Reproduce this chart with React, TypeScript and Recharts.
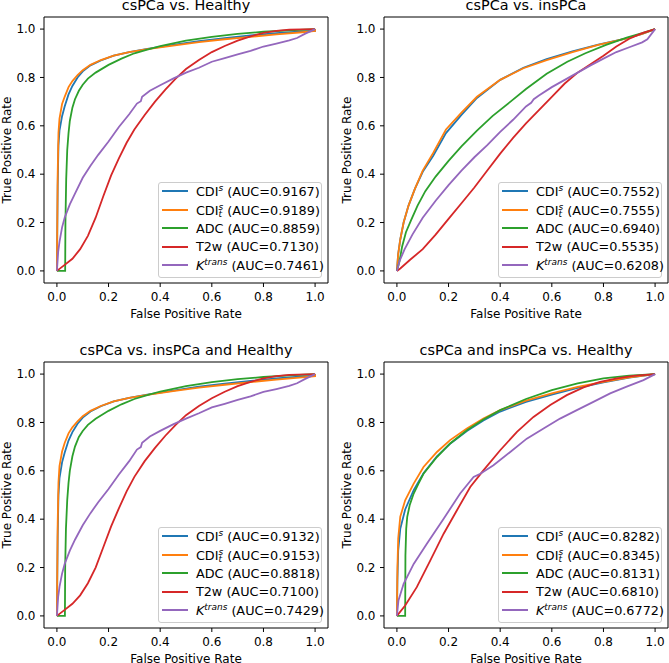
import React from 'react';
import { LineChart, Line, XAxis, YAxis, ReferenceArea } from 'recharts';

type Pt = [number, number];

const FONT = '"DejaVu Sans", "Liberation Sans", sans-serif';
const SERIES_COLORS = ['#1f77b4', '#ff7f0e', '#2ca02c', '#d62728', '#9467bd'];
const AXIS_TICKS = [0, 0.2, 0.4, 0.6, 0.8, 1.0];
const PANEL_TITLES = [
  'csPCa vs. Healthy',
  'csPCa vs. insPCa',
  'csPCa vs. insPCa and Healthy',
  'csPCa and insPCa vs. Healthy',
];
const X_LABEL = 'False Positive Rate';
const Y_LABEL = 'True Positive Rate';

const aucHealthy = ['0.9167', '0.9189', '0.8859', '0.7130', '0.7461'];
const aucInsPCa = ['0.7552', '0.7555', '0.6940', '0.5535', '0.6208'];
const aucInsHealthy = ['0.9132', '0.9153', '0.8818', '0.7100', '0.7429'];
const aucAnyHealthy = ['0.8282', '0.8345', '0.8131', '0.6810', '0.6772'];

// ---- csPCa vs. Healthy ----
const hCdi: Pt[] = [[0,0],[0.003,0.35],[0.006,0.52],[0.01,0.58],[0.02,0.64],[0.03,0.68],[0.045,0.73],[0.06,0.765],[0.08,0.8],[0.1,0.825],[0.13,0.85],[0.17,0.87],[0.22,0.89],[0.28,0.905],[0.35,0.918],[0.45,0.935],[0.55,0.95],[0.65,0.963],[0.75,0.974],[0.85,0.983],[0.95,0.99],[1,0.993],[1,1]];
const hCdiT: Pt[] = [[0,0],[0.003,0.4],[0.006,0.57],[0.01,0.63],[0.02,0.69],[0.03,0.72],[0.045,0.76],[0.06,0.785],[0.08,0.81],[0.1,0.83],[0.13,0.852],[0.17,0.872],[0.22,0.89],[0.28,0.905],[0.35,0.917],[0.45,0.932],[0.55,0.946],[0.65,0.958],[0.75,0.968],[0.85,0.978],[0.95,0.987],[1,0.992],[1,1]];
const hAdc: Pt[] = [[0,0],[0.032,0],[0.033,0.2],[0.036,0.38],[0.04,0.5],[0.045,0.57],[0.05,0.62],[0.06,0.675],[0.07,0.71],[0.085,0.745],[0.1,0.77],[0.12,0.795],[0.15,0.82],[0.2,0.852],[0.25,0.878],[0.3,0.9],[0.35,0.915],[0.4,0.93],[0.5,0.952],[0.6,0.968],[0.7,0.98],[0.8,0.989],[0.9,0.995],[1,1]];
const hT2w: Pt[] = [[0,0],[0.03,0.025],[0.06,0.05],[0.09,0.09],[0.12,0.145],[0.15,0.22],[0.18,0.31],[0.21,0.395],[0.24,0.465],[0.27,0.53],[0.3,0.585],[0.34,0.645],[0.38,0.7],[0.42,0.75],[0.46,0.795],[0.5,0.835],[0.55,0.872],[0.6,0.905],[0.65,0.93],[0.7,0.952],[0.75,0.97],[0.8,0.984],[0.85,0.993],[0.9,0.998],[1,1]];
const hKtrans: Pt[] = [[0,0],[0.005,0.08],[0.01,0.12],[0.02,0.18],[0.03,0.22],[0.05,0.275],[0.07,0.32],[0.1,0.385],[0.13,0.435],[0.16,0.48],[0.2,0.535],[0.24,0.595],[0.28,0.648],[0.31,0.692],[0.325,0.702],[0.33,0.72],[0.36,0.745],[0.4,0.768],[0.45,0.795],[0.5,0.82],[0.55,0.84],[0.6,0.865],[0.65,0.88],[0.7,0.895],[0.75,0.91],[0.8,0.928],[0.85,0.94],[0.9,0.953],[0.93,0.963],[0.96,0.98],[1,1]];

// ---- csPCa vs. insPCa ----
const iCdi: Pt[] = [[0,0],[0.005,0.07],[0.013,0.13],[0.026,0.2],[0.045,0.27],[0.07,0.34],[0.1,0.41],[0.14,0.475],[0.19,0.57],[0.25,0.645],[0.31,0.715],[0.4,0.79],[0.49,0.84],[0.58,0.876],[0.68,0.908],[0.78,0.936],[0.89,0.962],[0.95,0.98],[1,1]];
const iCdiT: Pt[] = [[0,0],[0.005,0.07],[0.013,0.13],[0.026,0.2],[0.045,0.27],[0.07,0.34],[0.1,0.415],[0.14,0.487],[0.19,0.585],[0.25,0.655],[0.31,0.72],[0.4,0.79],[0.49,0.838],[0.58,0.872],[0.68,0.905],[0.78,0.935],[0.89,0.962],[0.95,0.98],[1,1]];
const iAdc: Pt[] = [[0,0],[0.01,0.04],[0.02,0.1],[0.035,0.16],[0.055,0.21],[0.08,0.27],[0.11,0.33],[0.15,0.39],[0.2,0.455],[0.25,0.515],[0.31,0.58],[0.37,0.64],[0.44,0.7],[0.5,0.752],[0.58,0.815],[0.66,0.865],[0.73,0.9],[0.81,0.935],[0.89,0.965],[0.95,0.983],[1,1]];
const iT2w: Pt[] = [[0,0],[0.013,0.01],[0.05,0.045],[0.1,0.09],[0.15,0.15],[0.2,0.215],[0.25,0.28],[0.3,0.345],[0.35,0.415],[0.4,0.485],[0.45,0.55],[0.5,0.61],[0.55,0.665],[0.6,0.72],[0.65,0.775],[0.7,0.82],[0.75,0.855],[0.8,0.89],[0.85,0.928],[0.9,0.96],[0.95,0.983],[1,1]];
const iKtrans: Pt[] = [[0,0],[0.01,0.04],[0.03,0.09],[0.06,0.15],[0.1,0.22],[0.15,0.29],[0.2,0.355],[0.25,0.415],[0.3,0.47],[0.35,0.52],[0.4,0.575],[0.45,0.625],[0.5,0.68],[0.52,0.695],[0.53,0.71],[0.55,0.725],[0.6,0.76],[0.65,0.79],[0.7,0.82],[0.75,0.85],[0.8,0.878],[0.85,0.905],[0.9,0.925],[0.95,0.945],[0.97,0.958],[1,1]];

// ---- csPCa vs. insPCa and Healthy ----
const aCdi: Pt[] = [[0,0],[0.003,0.33],[0.006,0.5],[0.01,0.57],[0.02,0.635],[0.03,0.675],[0.045,0.725],[0.06,0.76],[0.08,0.795],[0.1,0.82],[0.13,0.845],[0.17,0.867],[0.22,0.887],[0.28,0.902],[0.35,0.915],[0.45,0.932],[0.55,0.948],[0.65,0.961],[0.75,0.972],[0.85,0.982],[0.95,0.99],[1,0.993],[1,1]];
const aCdiT: Pt[] = [[0,0],[0.003,0.38],[0.006,0.55],[0.01,0.62],[0.02,0.68],[0.03,0.715],[0.045,0.755],[0.06,0.78],[0.08,0.805],[0.1,0.826],[0.13,0.848],[0.17,0.868],[0.22,0.887],[0.28,0.902],[0.35,0.914],[0.45,0.93],[0.55,0.944],[0.65,0.956],[0.75,0.967],[0.85,0.977],[0.95,0.986],[1,0.991],[1,1]];
const aAdc: Pt[] = [[0,0],[0.031,0],[0.032,0.2],[0.035,0.36],[0.04,0.48],[0.045,0.55],[0.05,0.6],[0.06,0.66],[0.07,0.7],[0.085,0.74],[0.1,0.765],[0.12,0.79],[0.15,0.815],[0.2,0.848],[0.25,0.875],[0.3,0.897],[0.35,0.913],[0.4,0.928],[0.5,0.95],[0.6,0.967],[0.7,0.979],[0.8,0.988],[0.9,0.995],[1,1]];
const aT2w: Pt[] = [[0,0],[0.03,0.025],[0.06,0.05],[0.09,0.085],[0.12,0.135],[0.15,0.2],[0.18,0.285],[0.21,0.37],[0.24,0.445],[0.27,0.515],[0.3,0.575],[0.34,0.64],[0.38,0.695],[0.42,0.745],[0.46,0.79],[0.5,0.83],[0.55,0.868],[0.6,0.9],[0.65,0.927],[0.7,0.95],[0.75,0.968],[0.8,0.982],[0.85,0.992],[0.9,0.997],[1,1]];
const aKtrans: Pt[] = [[0,0],[0.005,0.08],[0.01,0.12],[0.02,0.175],[0.03,0.215],[0.05,0.27],[0.07,0.315],[0.1,0.375],[0.13,0.425],[0.16,0.47],[0.2,0.525],[0.24,0.585],[0.28,0.64],[0.31,0.688],[0.325,0.698],[0.33,0.716],[0.36,0.742],[0.4,0.765],[0.45,0.792],[0.5,0.816],[0.55,0.838],[0.6,0.862],[0.65,0.877],[0.7,0.893],[0.75,0.908],[0.8,0.926],[0.85,0.938],[0.9,0.951],[0.93,0.962],[0.96,0.979],[1,1]];

// ---- csPCa and insPCa vs. Healthy ----
const pCdi: Pt[] = [[0,0],[0.002,0.15],[0.005,0.27],[0.013,0.36],[0.032,0.44],[0.065,0.52],[0.103,0.59],[0.155,0.66],[0.206,0.712],[0.271,0.765],[0.335,0.808],[0.4,0.845],[0.5,0.885],[0.6,0.915],[0.7,0.943],[0.8,0.966],[0.9,0.985],[1,1]];
const pCdiT: Pt[] = [[0,0],[0.002,0.2],[0.005,0.32],[0.013,0.41],[0.032,0.478],[0.065,0.547],[0.103,0.616],[0.155,0.678],[0.206,0.727],[0.271,0.775],[0.335,0.816],[0.4,0.851],[0.5,0.89],[0.6,0.92],[0.7,0.947],[0.8,0.968],[0.9,0.986],[1,1]];
const pAdc: Pt[] = [[0,0],[0.032,0],[0.033,0.25],[0.036,0.36],[0.04,0.41],[0.05,0.46],[0.065,0.506],[0.085,0.55],[0.103,0.588],[0.155,0.657],[0.206,0.713],[0.271,0.768],[0.335,0.812],[0.4,0.851],[0.5,0.897],[0.6,0.934],[0.7,0.962],[0.8,0.982],[0.9,0.994],[1,1]];
const pT2w: Pt[] = [[0,0],[0.032,0.043],[0.077,0.119],[0.129,0.229],[0.181,0.34],[0.232,0.436],[0.284,0.533],[0.335,0.602],[0.4,0.685],[0.465,0.761],[0.529,0.823],[0.594,0.872],[0.658,0.913],[0.723,0.945],[0.787,0.968],[0.852,0.982],[0.916,0.993],[1,1]];
const pKtrans: Pt[] = [[0,0],[0.006,0.064],[0.026,0.133],[0.065,0.215],[0.116,0.298],[0.181,0.402],[0.245,0.506],[0.297,0.575],[0.323,0.588],[0.374,0.623],[0.439,0.678],[0.503,0.733],[0.568,0.775],[0.632,0.816],[0.697,0.851],[0.761,0.885],[0.826,0.92],[0.89,0.948],[0.955,0.975],[1,1]];

const PANEL_SERIES: Pt[][][] = [
  [hCdi, hCdiT, hAdc, hT2w, hKtrans],
  [iCdi, iCdiT, iAdc, iT2w, iKtrans],
  [aCdi, aCdiT, aAdc, aT2w, aKtrans],
  [pCdi, pCdiT, pAdc, pT2w, pKtrans],
];
const PANEL_AUCS = [aucHealthy, aucInsPCa, aucInsHealthy, aucAnyHealthy];

const PLOT_L = 44;
const PLOT_T = 17;
const PLOT_W = 284;
const PLOT_H = 266;
const XAXIS_H = 35;
const LEG_FS = 12.8;
const SCRIPT_FS = 8.96;

const fmt = (v: number) => v.toFixed(1);

const scriptBase: React.CSSProperties = {
  fontSize: SCRIPT_FS,
  fontStyle: 'italic',
  position: 'relative',
  display: 'inline-block',
  lineHeight: '5px',
  verticalAlign: 'baseline',
};

function SeriesName({ i }: { i: number }) {
  if (i === 0)
    return (
      <span>
        CDI<span style={{ ...scriptBase, top: -4.6 }}>s</span>
      </span>
    );
  if (i === 1)
    return (
      <span>
        CDI
        <span
          style={{
            fontSize: SCRIPT_FS,
            fontStyle: 'italic',
            position: 'relative',
            display: 'inline-block',
            lineHeight: '7px',
            verticalAlign: 'baseline',
            top: 2.4,
            width: 4.8,
          }}
        >
          s<br />t
        </span>
      </span>
    );
  if (i === 2) return <span>ADC</span>;
  if (i === 3) return <span>T2w</span>;
  return (
    <span>
      <span style={{ fontStyle: 'italic' }}>K</span>
      <span style={{ ...scriptBase, top: -4.6 }}>trans</span>
    </span>
  );
}

function Legend({ aucs, left, top }: { aucs: string[]; left: number; top: number }) {
  return (
    <div
      style={{
        position: 'absolute',
        left,
        top,
        width: 164,
        height: 96,
        boxSizing: 'border-box',
        border: '1px solid #cccccc',
        borderRadius: 3,
        background: 'rgba(255,255,255,0.8)',
        fontFamily: FONT,
        fontSize: LEG_FS,
        color: '#000',
      }}
    >
      {aucs.map((a, i) => (
        <div
          key={i}
          style={{
            position: 'absolute',
            left: 0,
            top: -0.5 + i * 18.5,
            height: 18.5,
            display: 'flex',
            alignItems: 'center',
            whiteSpace: 'nowrap',
          }}
        >
          <div style={{ width: 25.6, height: 1.8, marginLeft: 3.6, background: SERIES_COLORS[i] }} />
          <div style={{ marginLeft: 8.2 }}>
            <SeriesName i={i} /> (AUC={a})
          </div>
        </div>
      ))}
    </div>
  );
}

const XLabel = (props: any) => {
  const vb = props.viewBox || { x: PLOT_L, y: PLOT_T + PLOT_H, width: PLOT_W, height: XAXIS_H };
  return (
    <text
      x={vb.x + vb.width / 2}
      y={vb.y + 34.5}
      textAnchor="middle"
      fontFamily={FONT}
      fontSize={12}
      fill="#000"
    >
      {X_LABEL}
    </text>
  );
};

const YLabel = (props: any) => {
  const vb = props.viewBox || { x: 0, y: PLOT_T, width: PLOT_L, height: PLOT_H };
  const x = vb.x + vb.width - 33.5;
  const y = vb.y + vb.height / 2;
  return (
    <text
      x={x}
      y={y}
      transform={`rotate(-90 ${x} ${y})`}
      textAnchor="middle"
      fontFamily={FONT}
      fontSize={12}
      fill="#000"
    >
      {Y_LABEL}
    </text>
  );
};

function Panel({
  idx,
  left,
  top,
  width,
  height,
}: {
  idx: number;
  left: number;
  top: number;
  width: number;
  height: number;
}) {
  const series = PANEL_SERIES[idx];
  const tickStyle = { fill: '#000', fontSize: 12, fontFamily: FONT };
  return (
    <div style={{ position: 'absolute', left, top, width, height }}>
      <LineChart
        width={width}
        height={height}
        margin={{
          top: PLOT_T,
          right: width - PLOT_L - PLOT_W,
          bottom: height - PLOT_T - PLOT_H - XAXIS_H,
          left: 0,
        }}
      >
        <XAxis
          type="number"
          dataKey="x"
          domain={[-0.05, 1.05]}
          ticks={AXIS_TICKS}
          interval={0}
          tickFormatter={fmt}
          height={XAXIS_H}
          tickSize={4}
          tickMargin={5}
          axisLine={false}
          tickLine={{ stroke: '#000', strokeWidth: 1 }}
          tick={tickStyle}
          allowDataOverflow
          label={{ content: XLabel }}
        />
        <YAxis
          type="number"
          domain={[-0.05, 1.05]}
          ticks={AXIS_TICKS}
          interval={0}
          tickFormatter={fmt}
          width={PLOT_L}
          tickSize={4}
          tickMargin={4.5}
          axisLine={false}
          tickLine={{ stroke: '#000', strokeWidth: 1 }}
          tick={tickStyle}
          allowDataOverflow
          label={{ content: YLabel }}
        />
        <ReferenceArea
          x1={-0.05}
          x2={1.05}
          y1={-0.05}
          y2={1.05}
          fill="none"
          fillOpacity={0}
          stroke="#000"
          strokeWidth={1}
          isAnimationActive={false}
        />
        {series.map((pts, i) => (
          <Line
            key={i}
            data={pts.map(([x, y]) => ({ x, y }))}
            dataKey="y"
            type="linear"
            stroke={SERIES_COLORS[i]}
            strokeWidth={1.8}
            dot={false}
            activeDot={false}
            isAnimationActive={false}
          />
        ))}
      </LineChart>
      <div
        style={{
          position: 'absolute',
          left: PLOT_L,
          top: PLOT_T - 7 - 12.2,
          width: PLOT_W,
          textAlign: 'center',
          whiteSpace: 'nowrap',
          fontFamily: FONT,
          fontSize: 14.4,
          lineHeight: '14.4px',
          color: '#000',
        }}
      >
        {PANEL_TITLES[idx]}
      </div>
      <Legend
        aucs={PANEL_AUCS[idx]}
        left={PLOT_L + PLOT_W - 6.5 - 164}
        top={PLOT_T + PLOT_H - 5.5 - 96}
      />
    </div>
  );
}

export default function App() {
  return (
    <div
      style={{
        position: 'absolute',
        left: 0,
        top: 0,
        width: 669,
        height: 663,
        overflow: 'hidden',
        background: '#fff',
      }}
    >
      <Panel idx={0} left={0} top={0} width={334} height={331} />
      <Panel idx={1} left={340} top={0} width={329} height={331} />
      <Panel idx={2} left={0} top={345} width={334} height={318} />
      <Panel idx={3} left={340} top={345} width={329} height={318} />
    </div>
  );
}
